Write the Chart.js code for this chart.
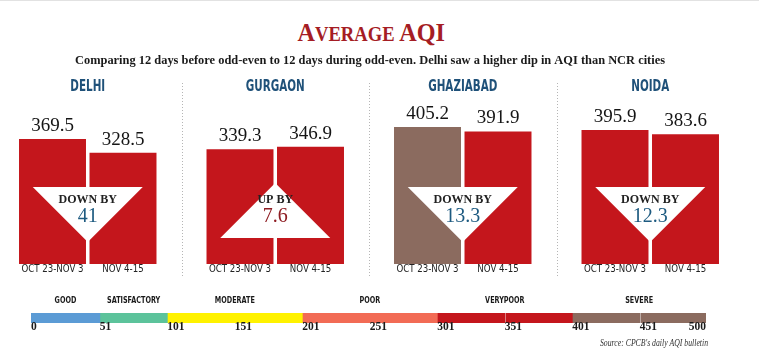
<!DOCTYPE html>
<html>
<head>
<meta charset="utf-8">
<script src="https://cdn.jsdelivr.net/npm/chart.js@4.4.1/dist/chart.umd.min.js"></script>
<style>
  body { margin: 0; background: #fff; }
  #wrap { position: relative; width: 759px; height: 352px; overflow: hidden; border-top: 1px solid #e2e2e2; box-sizing: border-box; }
  #title { position: absolute; top: 19px; left: 0; width: 742px; text-align: center;
           font: bold 20px "Liberation Serif", serif; color: #a51d24; line-height: 26px; }
  #title span.t { display: inline-block; transform: scaleX(0.93); transform-origin: center; }
  #title .big { font-size: 26px; }
  #main { position: absolute; left: -6px; top: 0; }
  #scale { position: absolute; left: 0; top: 295px; }
</style>
</head>
<body>
<div id="wrap">
  <div id="title"><span class="t"><span class="big">A</span>VERAGE <span class="big">AQI</span></span></div>
  <canvas id="main" width="750" height="352"></canvas>
  <canvas id="scale" width="759" height="57"></canvas>
</div>
<script>
// data
const cities = ['DELHI', 'GURGAON', 'GHAZIABAD', 'NOIDA'];
const periods = ['OCT 23-NOV 3', 'NOV 4-15'];
const beforeAqi = [369.5, 339.3, 405.2, 395.9];
const duringAqi = [328.5, 346.9, 391.9, 383.6];

const bandNames = ['GOOD', 'SATISFACTORY', 'MODERATE', 'POOR', 'VERYPOOR', 'SEVERE'];
const bandStarts = [0, 51, 101, 201, 301, 401];
const bandEnds = [51, 101, 201, 301, 401, 500];
const bandColors = ['#5b9bd5', '#5cc39b', '#fff200', '#f26b55', '#c4161c', '#8b6b5f'];
const scaleTicks = [0, 51, 101, 151, 201, 251, 301, 351, 401, 451, 500];
const scaleDividers = [351, 451];

const subtitle = 'Comparing 12 days before odd-even to 12 days during odd-even. Delhi saw a higher dip in AQI than NCR cities';
const source = "Source: CPCB's daily AQI bulletin";

function bandColor(v) {
  for (let i = 0; i < bandStarts.length; i++) {
    if (v >= bandStarts[i] && (v < bandEnds[i] || i === bandStarts.length - 1)) return bandColors[i];
  }
  return bandColors[bandColors.length - 1];
}

// draw text squeezed horizontally by k
function squeeze(ctx, str, x, y, k) {
  ctx.save();
  ctx.translate(x, y);
  ctx.scale(k, 1);
  ctx.fillText(str, 0, 0);
  ctx.restore();
}

const panelPlugin = {
  id: 'panels',
  afterDatasetsDraw(chart) {
    const ctx = chart.ctx;
    const area = chart.chartArea;
    const m0 = chart.getDatasetMeta(0), m1 = chart.getDatasetMeta(1);
    ctx.save();

    // subtitle
    ctx.fillStyle = '#1a1a1a';
    ctx.textAlign = 'center';
    ctx.textBaseline = 'middle';
    ctx.font = 'bold 13.5px "Liberation Serif", serif';
    ctx.fillText(subtitle, 376, 60, 590);

    const centers = [];
    cities.forEach((city, i) => {
      const b1 = m0.data[i], b2 = m1.data[i];
      const gx = (b1.x + b2.x) / 2;
      centers.push(gx);

      // heading
      ctx.fillStyle = '#1f5179';
      ctx.font = 'bold 16px "DejaVu Sans Condensed", "DejaVu Sans", sans-serif';
      ctx.textAlign = 'center';
      ctx.textBaseline = 'middle';
      squeeze(ctx, city, gx, 86, 0.72);

      // values on top
      ctx.fillStyle = '#151515';
      ctx.font = '19px "Liberation Serif", serif';
      ctx.textBaseline = 'alphabetic';
      ctx.fillText(beforeAqi[i].toFixed(1), b1.x, b1.y - 8);
      ctx.fillText(duringAqi[i].toFixed(1), b2.x, b2.y - 8);

      // arrow
      const diff = duringAqi[i] - beforeAqi[i];
      const hw = 55;
      ctx.fillStyle = '#ffffff';
      ctx.beginPath();
      if (diff < 0) {
        const top = area.bottom - 77;
        ctx.moveTo(gx - hw, top);
        ctx.lineTo(gx + hw, top);
        ctx.lineTo(gx, top + hw);
      } else {
        const base = area.bottom - 26;
        ctx.moveTo(gx - hw, base);
        ctx.lineTo(gx + hw, base);
        ctx.lineTo(gx, base - hw);
      }
      ctx.closePath();
      ctx.fill();

      ctx.textAlign = 'center';
      ctx.textBaseline = 'middle';
      ctx.fillStyle = '#222';
      ctx.font = 'bold 12px "Liberation Serif", serif';
      ctx.fillText(diff < 0 ? 'DOWN BY' : 'UP BY', gx, 199);
      ctx.fillStyle = diff < 0 ? '#1d5a80' : '#8e1c22';
      ctx.font = '20px "Liberation Serif", serif';
      ctx.fillText(String(parseFloat(Math.abs(diff).toFixed(1))), gx, 216);

      // period labels
      ctx.fillStyle = '#222';
      ctx.font = '10px "DejaVu Sans Condensed", "DejaVu Sans", sans-serif';
      squeeze(ctx, periods[0], b1.x, 268, 0.96);
      squeeze(ctx, periods[1], b2.x, 268, 0.96);
    });

    // dotted dividers
    ctx.strokeStyle = '#b5b5b5';
    ctx.lineWidth = 1;
    ctx.setLineDash([1, 2]);
    for (let i = 0; i < centers.length - 1; i++) {
      const x = Math.round((centers[i] + centers[i + 1]) / 2) + 0.5;
      ctx.beginPath();
      ctx.moveTo(x, 82);
      ctx.lineTo(x, 277);
      ctx.stroke();
    }
    ctx.restore();
  }
};

new Chart(document.getElementById('main'), {
  type: 'bar',
  data: {
    labels: cities,
    datasets: [
      { label: periods[0], data: beforeAqi, backgroundColor: beforeAqi.map(bandColor) },
      { label: periods[1], data: duringAqi, backgroundColor: duringAqi.map(bandColor) }
    ]
  },
  options: {
    responsive: false,
    animation: false,
    events: [],
    barPercentage: 0.95,
    categoryPercentage: 0.752,
    layout: { padding: { top: 60, bottom: 89, left: 0, right: 0 } },
    plugins: { legend: { display: false }, tooltip: { enabled: false } },
    scales: {
      x: { display: false },
      y: { display: false, min: 0, max: 600 }
    }
  },
  plugins: [panelPlugin]
});

const scalePlugin = {
  id: 'aqiScale',
  afterDatasetsDraw(chart) {
    const ctx = chart.ctx;
    const x = chart.scales.x;
    const a = chart.chartArea;
    ctx.save();
    // faint dividers inside bands
    ctx.strokeStyle = 'rgba(255,255,255,0.45)';
    ctx.lineWidth = 1;
    scaleDividers.forEach(v => {
      const px = Math.round(x.getPixelForValue(v)) + 0.5;
      ctx.beginPath();
      ctx.moveTo(px, a.top);
      ctx.lineTo(px, a.bottom);
      ctx.stroke();
    });
    // band names
    ctx.fillStyle = '#1a1a1a';
    ctx.textAlign = 'center';
    ctx.textBaseline = 'middle';
    ctx.font = 'bold 8px "DejaVu Sans Condensed", "DejaVu Sans", sans-serif';
    bandNames.forEach((n, i) => {
      const cx = (x.getPixelForValue(bandStarts[i]) + x.getPixelForValue(bandEnds[i])) / 2;
      squeeze(ctx, n, cx, a.top - 12, 0.9);
    });
    // ticks
    ctx.font = 'bold 11.5px "Liberation Serif", serif';
    scaleTicks.forEach((t, i) => {
      ctx.textAlign = i === scaleTicks.length - 1 ? 'right' : 'left';
      ctx.fillText(String(t), x.getPixelForValue(t), a.bottom + 4);
    });
    // source
    ctx.font = 'italic 10px "Liberation Serif", serif';
    ctx.textAlign = 'right';
    ctx.fillStyle = '#333';
    ctx.fillText(source, x.getPixelForValue(500) + 2, 47, 108);
    ctx.restore();
  }
};

new Chart(document.getElementById('scale'), {
  type: 'bar',
  data: {
    labels: ['AQI'],
    datasets: bandNames.map((n, i) => ({
      label: n,
      data: [[bandStarts[i], bandEnds[i]]],
      backgroundColor: bandColors[i],
      grouped: false,
      barPercentage: 1,
      categoryPercentage: 1
    }))
  },
  options: {
    indexAxis: 'y',
    responsive: false,
    animation: false,
    events: [],
    layout: { padding: { top: 17, bottom: 30, left: 31, right: 53 } },
    plugins: { legend: { display: false }, tooltip: { enabled: false } },
    scales: {
      x: { type: 'linear', display: false, min: 0, max: 500 },
      y: { display: false }
    }
  },
  plugins: [scalePlugin]
});
</script>
</body>
</html>
